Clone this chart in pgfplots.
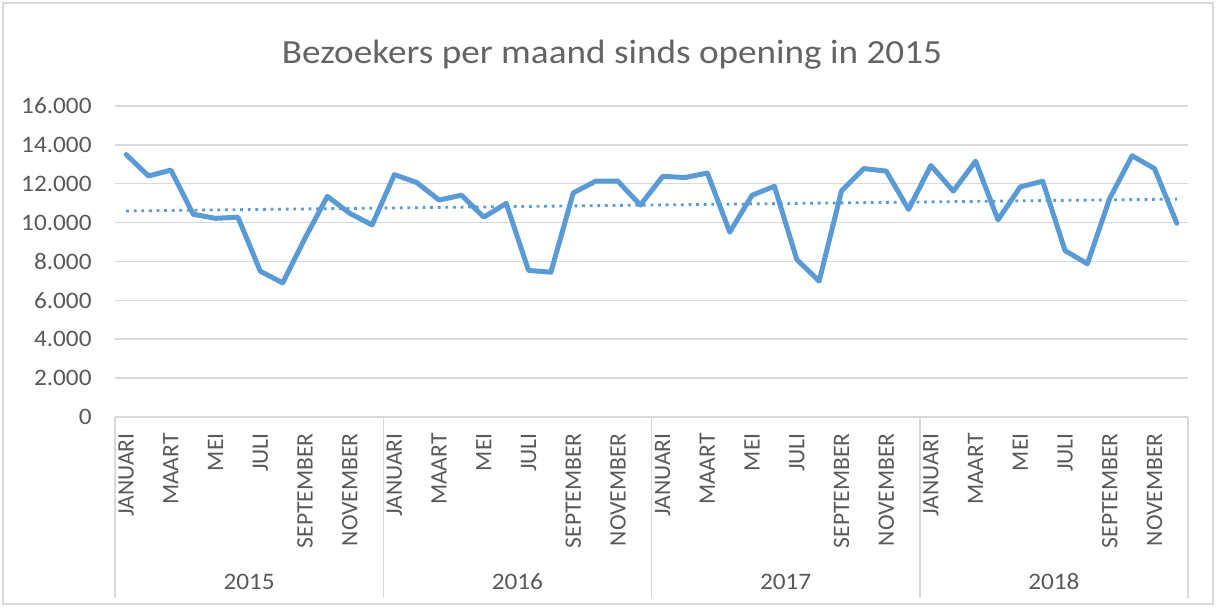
\documentclass[border=0pt]{standalone}
\usepackage{pgfplots}
\pgfplotsset{compat=1.18}
\usepackage{pgfplotstable}
\usepackage{fontspec}
\setmainfont{Carlito}
\definecolor{linecol}{HTML}{5B9BD5}
\definecolor{gridcol}{HTML}{D9D9D9}
\definecolor{txtcol}{HTML}{595959}
\definecolor{titcol}{HTML}{646464}
\pgfplotstableread{
x y
0 13500
1 12400
2 12700
3 10430
4 10220
5 10280
6 7500
7 6900
8 9200
9 11350
10 10480
11 9880
12 12470
13 12060
14 11160
15 11410
16 10280
17 10990
18 7540
19 7450
20 11530
21 12130
22 12130
23 10900
24 12380
25 12320
26 12550
27 9510
28 11410
29 11870
30 8100
31 6990
32 11630
33 12780
34 12650
35 10680
36 12940
37 11620
38 13160
39 10140
40 11840
41 12130
42 8560
43 7880
44 11250
45 13440
46 12780
47 9970
}\visitors
\pgfplotstableread{
x y
0 10600
47 11210
}\trend
\begin{document}
\begin{tikzpicture}
\path[use as bounding box] (0,0) rectangle (608.5pt,304pt);
\draw[gridcol, line width=0.75pt] (1.5pt,2pt) rectangle (606.5pt,302.5pt);
\begin{axis}[
  at={(57.5pt,95.5pt)}, anchor=south west,
  scale only axis, width=536.5pt, height=155.5pt,
  xmin=-0.5, xmax=47.5, ymin=0, ymax=16000,
  clip=false,
  scaled y ticks=false,
  axis x line*=bottom, axis y line*=left,
  x axis line style={gridcol, line width=0.75pt, -},
  y axis line style={draw=none},
  ymajorgrids, grid style={gridcol, line width=0.75pt},
  major tick length=0pt,
  ytick={0,2000,4000,6000,8000,10000,12000,14000,16000},
  yticklabels={0,2.000,4.000,6.000,8.000,10.000,12.000,14.000,16.000},
  xtick={0,2,...,46},
  xticklabels={JANUARI,MAART,MEI,JULI,SEPTEMBER,NOVEMBER,JANUARI,MAART,MEI,JULI,SEPTEMBER,NOVEMBER,JANUARI,MAART,MEI,JULI,SEPTEMBER,NOVEMBER,JANUARI,MAART,MEI,JULI,SEPTEMBER,NOVEMBER},
  tick label style={font=\fontsize{11.8}{14}\selectfont, text=txtcol, inner sep=0pt},
  xticklabel style={rotate=90, anchor=east},
  yticklabel style={anchor=east, xscale=1.07, transform shape},
  xticklabel shift=8pt,
  yticklabel shift=11.5pt,
  /pgf/number format/assume math mode=true,
]
\addplot[linecol, line width=2.5pt, line join=round, line cap=round] table[x=x,y=y]{\visitors};
\addplot[linecol, line width=1.4pt, dash pattern=on 1.4pt off 2.4pt] table[x=x,y=y]{\trend};
\foreach \s in {-0.5,11.5,23.5,35.5,47.5}{
  \edef\tmp{\noexpand\draw[gridcol, line width=0.75pt] (axis cs:\s,0) -- ++(0pt,-90.5pt);}
  \tmp
}
\foreach \c/\yr in {5.5/2015,17.5/2016,29.5/2017,41.5/2018}{
  \edef\tmp{\noexpand\node[anchor=base, font=\noexpand\fontsize{11.8}{14}\noexpand\selectfont, text=txtcol, inner sep=0pt, xscale=1.07, transform shape, yshift=-86.5pt] at (axis cs:\c,0) {\yr};}
  \tmp
}
\end{axis}
\node[anchor=base, font=\fontsize{16.9}{20}\selectfont, text=titcol, inner sep=0pt, xscale=1.1, transform shape] at (306pt,272.4pt) {Bezoekers per maand sinds opening in 2015};
\end{tikzpicture}
\end{document}
